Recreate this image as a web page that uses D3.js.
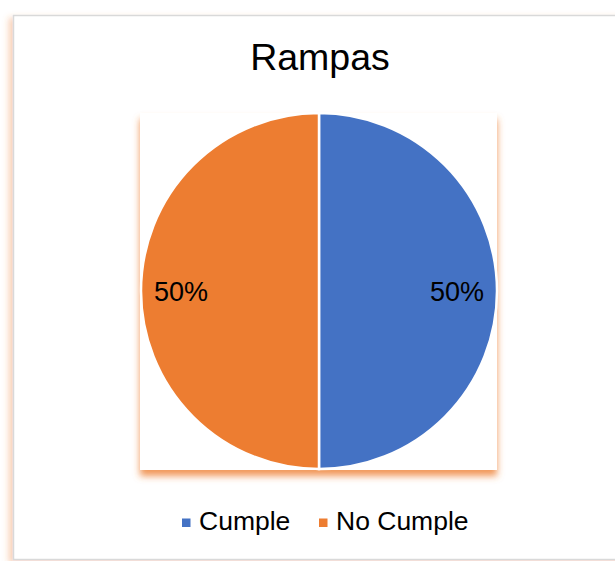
<!DOCTYPE html>
<html>
<head>
<meta charset="utf-8">
<script src="https://cdn.jsdelivr.net/npm/d3@7"></script>
<style>
  body { margin: 0; background: #fff; }
  svg { display: block; font-family: "Liberation Sans", Arial, sans-serif; }
</style>
</head>
<body>
<div id="chart"></div>
<script>
// chart data
let categories = ["Cumple", "No Cumple"];
let values = [50, 50];
let colors = ["#4472C4", "#ED7D31"];

let width = 615;
let height = 561;
let cx = 319, cy = 291, radius = 178;

let svg = d3.select('#chart')
    .append('svg')
    .attr('width', width)
    .attr('height', height);

let defs = svg.append('defs');
let glow = defs.append('filter').attr('id', 'glow')
    .attr('x', '-10%').attr('y', '-10%').attr('width', '120%').attr('height', '120%');
glow.append('feDropShadow')
    .attr('dx', 0).attr('dy', 6).attr('stdDeviation', 3.5)
    .attr('flood-color', '#ED7D31').attr('flood-opacity', 0.8);

let sideGlow = defs.append('filter').attr('id', 'sideglow')
    .attr('x', '-5%').attr('y', '-5%').attr('width', '110%').attr('height', '110%');
sideGlow.append('feDropShadow')
    .attr('dx', -4).attr('dy', 3).attr('stdDeviation', 3)
    .attr('flood-color', '#ED7D31').attr('flood-opacity', 0.35);

// chart frame
svg.append('rect')
    .attr('x', 13.5).attr('y', 15.5)
    .attr('width', 640).attr('height', 544)
    .attr('fill', '#fff')
    .attr('stroke', '#d9d9d9')
    .attr('stroke-width', 1.5)
    .attr('filter', 'url(#sideglow)');

// plot area with shadow
svg.append('rect')
    .attr('x', 140).attr('y', 113)
    .attr('width', 357).attr('height', 357)
    .attr('fill', '#fff')
    .attr('filter', 'url(#glow)');

svg.append('text')
    .attr('x', 320).attr('y', 70)
    .attr('text-anchor', 'middle')
    .attr('font-size', 37.5)
    .attr('fill', '#000')
    .text('Rampas');

let pie = d3.pie().value(d => d).sort(null);
let arc = d3.arc().innerRadius(0).outerRadius(radius);
let labelArc = d3.arc().innerRadius(138).outerRadius(138);
let total = d3.sum(values);

let g = svg.append('g').attr('transform', `translate(${cx},${cy})`);

g.selectAll('path')
    .data(pie(values))
    .enter()
    .append('path')
    .attr('d', arc)
    .attr('fill', (d, i) => colors[i])
    .attr('stroke', '#fff')
    .attr('stroke-width', 2.5);

g.selectAll('text')
    .data(pie(values))
    .enter()
    .append('text')
    .attr('transform', d => `translate(${labelArc.centroid(d)})`)
    .attr('text-anchor', 'middle')
    .attr('dy', '0.36em')
    .attr('font-size', 27)
    .attr('fill', '#000')
    .text(d => Math.round(d.data / total * 100) + '%');

// legend
let legendX = [182, 319];
let legend = svg.append('g');
categories.forEach((c, i) => {
    legend.append('rect')
        .attr('x', legendX[i]).attr('y', 518.5)
        .attr('width', 8.5).attr('height', 8.5)
        .attr('fill', colors[i]);
    legend.append('text')
        .attr('x', legendX[i] + 17).attr('y', 530)
        .attr('font-size', 26.5)
        .attr('fill', '#000')
        .text(c);
});
</script>
</body>
</html>
